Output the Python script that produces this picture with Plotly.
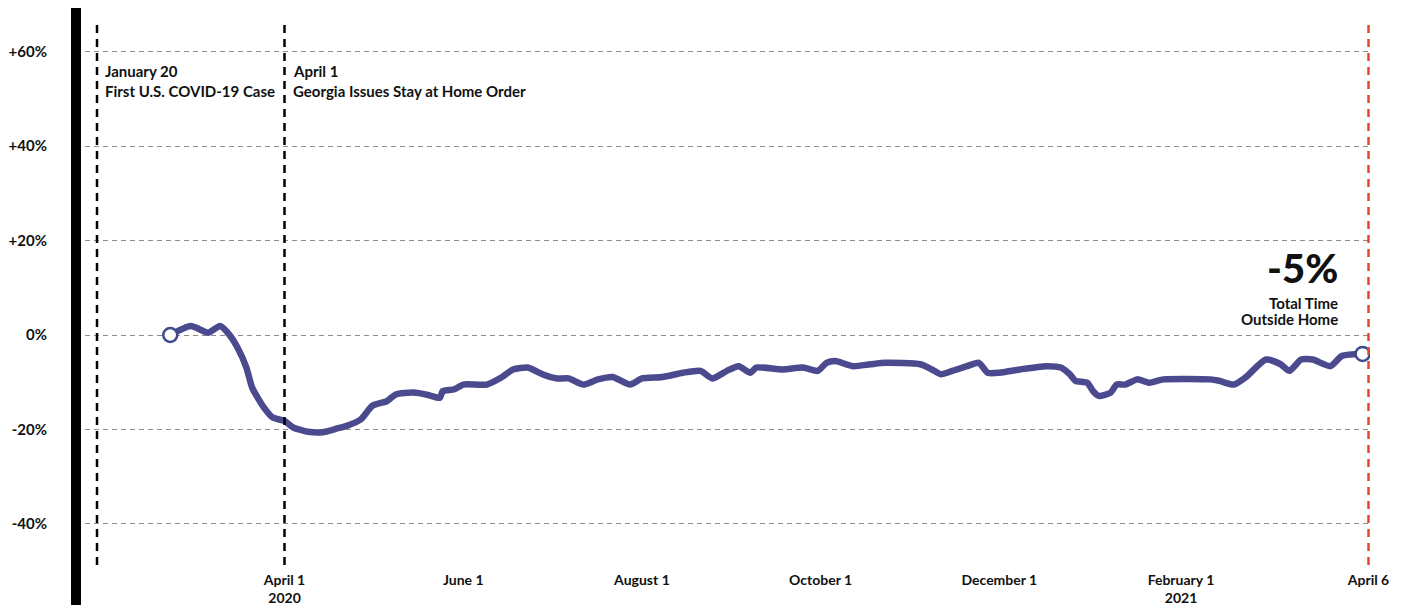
import pandas as pd
import plotly.graph_objects as go

# ---- data ----
dates = [
    "2020-02-22", "2020-02-29", "2020-03-06", "2020-03-10", "2020-03-13", "2020-03-16",
    "2020-03-19", "2020-03-21", "2020-03-25", "2020-03-28", "2020-04-01", "2020-04-04",
    "2020-04-09", "2020-04-14", "2020-04-19", "2020-04-22", "2020-04-27", "2020-05-01",
    "2020-05-06", "2020-05-09", "2020-05-15", "2020-05-20", "2020-05-24", "2020-05-25",
    "2020-05-29", "2020-06-01", "2020-06-09", "2020-06-14", "2020-06-18", "2020-06-23",
    "2020-06-28", "2020-07-03", "2020-07-07", "2020-07-12", "2020-07-17", "2020-07-22",
    "2020-07-28", "2020-08-01", "2020-08-08", "2020-08-15", "2020-08-21", "2020-08-25",
    "2020-08-30", "2020-09-03", "2020-09-07", "2020-09-09", "2020-09-18", "2020-09-25",
    "2020-09-30", "2020-10-03", "2020-10-06", "2020-10-12", "2020-10-18", "2020-10-23",
    "2020-11-04", "2020-11-08", "2020-11-11", "2020-11-15", "2020-11-20", "2020-11-24",
    "2020-11-27", "2020-12-01", "2020-12-08", "2020-12-17", "2020-12-22", "2020-12-25",
    "2020-12-27", "2020-12-31", "2021-01-02", "2021-01-04", "2021-01-08", "2021-01-10",
    "2021-01-13", "2021-01-17", "2021-01-21", "2021-01-26", "2021-02-11", "2021-02-14",
    "2021-02-19", "2021-02-23", "2021-03-02", "2021-03-07", "2021-03-10", "2021-03-14",
    "2021-03-18", "2021-03-24", "2021-03-28", "2021-04-04",
]
values = [
    0.0, 1.9, 0.5, 1.9, 0.2, -2.7,
    -6.9, -11.2, -15.4, -17.5, -18.2, -19.6,
    -20.5, -20.6, -19.8, -19.3, -17.9, -15.0,
    -14.0, -12.6, -12.2, -12.7, -13.3, -11.9,
    -11.5, -10.5, -10.5, -9.0, -7.3, -6.9,
    -8.3, -9.2, -9.2, -10.5, -9.4, -8.9,
    -10.5, -9.2, -8.9, -8.0, -7.6, -9.2,
    -7.6, -6.6, -8.0, -6.9, -7.3, -6.9,
    -7.6, -5.9, -5.5, -6.6, -6.2, -5.9,
    -6.2, -7.3, -8.3, -7.6, -6.6, -5.9,
    -8.0, -8.0, -7.3, -6.6, -6.9, -8.3,
    -9.7, -10.1, -11.9, -12.9, -12.2, -10.5,
    -10.5, -9.4, -10.1, -9.4, -9.4, -9.7,
    -10.5, -9.0, -5.2, -6.2, -7.6, -5.2,
    -5.2, -6.6, -4.4, -4.0,
]

y_tick_vals = [60, 40, 20, 0, -20, -40]
y_tick_text = ["+60%", "+40%", "+20%", "0%", "-20%", "-40%"]

x_tick_vals = ["2020-04-01", "2020-06-01", "2020-08-01", "2020-10-01",
               "2020-12-01", "2021-02-01", "2021-04-06"]
x_tick_text = ["April 1<br>2020", "June 1", "August 1", "October 1",
               "December 1", "February 1<br>2021", "April 6"]

event_dates = ["2020-01-28", "2020-04-01"]
event_titles = ["January 20", "April 1"]
event_texts = ["First U.S. COVID-19 Case", "Georgia Issues Stay at Home Order"]
latest_date = "2021-04-06"
headline_value = "-5%"
headline_label = ["Total Time", "Outside Home"]

# ---- layout geometry ----
W, H = 1403, 605
L, R, T, B = 85, 1370, 20, 565
FONT = "Lato"
LINE_COLOR = "#4b4a8f"
FS = 15


def xp(px):
    return (px - L) / (R - L)


def yp(py):
    return (B - py) / (B - T)


base = pd.Timestamp("2020-04-01")
ppd = (1368.5 - 284.5) / 370.0
x_start = base + pd.Timedelta(days=(L - 284.5) / ppd)
x_end = base + pd.Timedelta(days=(R - 284.5) / ppd)
zero_px, px_per_pct = 335.0, 4.72
y_range = [-(B - zero_px) / px_per_pct, (zero_px - T) / px_per_pct]

fig = go.Figure()
fig.add_trace(go.Scatter(
    x=dates, y=values, mode="lines",
    line=dict(color=LINE_COLOR, width=6.5, shape="spline", smoothing=0.6),
    hoverinfo="skip", showlegend=False,
))
fig.add_trace(go.Scatter(
    x=[dates[0], dates[-1]], y=[values[0], values[-1]], mode="markers",
    marker=dict(size=14, color="white", line=dict(color="#3e4a8c", width=2.5)),
    hoverinfo="skip", showlegend=False,
))

shapes = [
    dict(type="rect", xref="paper", yref="paper", x0=xp(71), x1=xp(81),
         y0=yp(605), y1=yp(8), fillcolor="black", line=dict(width=0), layer="above"),
]
for d in event_dates:
    shapes.append(dict(type="line", xref="x", yref="paper", x0=d, x1=d, y0=0, y1=1,
                       line=dict(color="black", width=2.5, dash="8px,6px"), layer="above"))
shapes.append(dict(type="line", xref="x", yref="paper", x0=latest_date, x1=latest_date,
                   y0=0, y1=1, line=dict(color="#e4472a", width=2.5, dash="8px,6px"),
                   layer="above"))

bold = dict(family=FONT, size=FS, color="#111", weight=700)
small_bold = dict(family=FONT, size=14, color="#111", weight=700)
annotations = []
for d, t1, t2 in zip(event_dates, event_titles, event_texts):
    annotations.append(dict(x=d, xref="x", y=yp(71), yref="paper", text=t1,
                            xanchor="left", yanchor="middle", xshift=6, showarrow=False,
                            font=bold))
    annotations.append(dict(x=d, xref="x", y=yp(91), yref="paper", text=t2,
                            xanchor="left", yanchor="middle", xshift=6, showarrow=False,
                            font=bold))
annotations.append(dict(x=xp(1339), xref="paper", y=yp(268), yref="paper",
                        text=headline_value, xanchor="right", yanchor="middle",
                        showarrow=False, borderpad=0,
                        font=dict(family=FONT, size=40, color="#111", weight=900)))
for py, t in zip([303, 319], headline_label):
    annotations.append(dict(x=xp(1339), xref="paper", y=yp(py), yref="paper", text=t,
                            xanchor="right", yanchor="middle", showarrow=False,
                            borderpad=0, font=bold))

fig.update_layout(
    width=W, height=H,
    margin=dict(l=L, r=W - R, t=T, b=H - B, pad=0, autoexpand=False),
    paper_bgcolor="white", plot_bgcolor="white",
    shapes=shapes, annotations=annotations,
    font=dict(family=FONT, color="#111"),
    xaxis=dict(
        type="date", range=[x_start.isoformat(), x_end.isoformat()],
        tickmode="array", tickvals=x_tick_vals, ticktext=x_tick_text,
        showgrid=False, zeroline=False, showline=False, ticks="",
        ticklabelstandoff=5, tickfont=small_bold, automargin=False,
    ),
    yaxis=dict(
        range=y_range, tickmode="array", tickvals=y_tick_vals, ticktext=y_tick_text,
        showgrid=True, gridcolor="#8c8c8c", gridwidth=1, griddash="5px,4px",
        zeroline=False, showline=False, ticks="", ticklabelstandoff=37,
        tickfont=bold, automargin=False,
    ),
)

fig.write_html(
    "out.html",
    config={"displayModeBar": False},
    post_script="document.body.style.margin='0';document.body.style.overflow='hidden';",
)
